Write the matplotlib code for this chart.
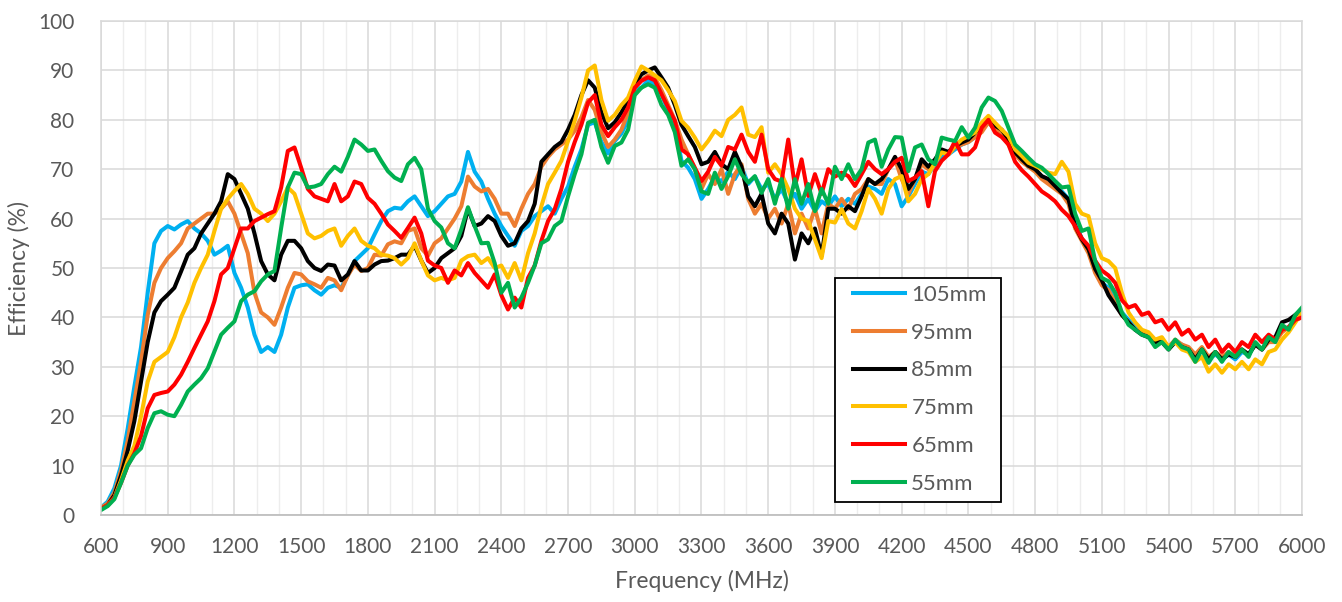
import numpy as np
import matplotlib
matplotlib.use('Agg')
import matplotlib.pyplot as plt
from matplotlib.ticker import MultipleLocator
from matplotlib.patches import Rectangle

plt.rcParams['font.family'] = ['Lato', 'DejaVu Sans']

# Frequency samples (MHz), 30 MHz apart
freq = list(range(600, 6001, 30))

labels = ['105mm', '95mm', '85mm', '75mm', '65mm', '55mm']
colors = ['#00B0F0', '#ED7D31', '#000000', '#FFC000', '#FF0000', '#00B050']

s105 = [
    1.5, 2.7, 5.4, 10, 17.5, 26, 34, 45, 55, 57.5,
    58.5, 57.8, 58.8, 59.5, 58, 57, 55.5, 52.7, 53.5, 54.5,
    49, 46, 42, 36.5, 33, 34, 33, 36.5, 42, 46,
    46.5, 46.7, 45.5, 44.6, 46, 46.5, 46, 48.5, 51.4, 52.7,
    54, 56.8, 59.5, 61.5, 62.2, 62, 63.5, 64.5, 62.5, 60.5,
    61.5, 63, 64.5, 65, 67.5, 73.5, 69.5, 67.5, 64, 61,
    58.5, 56.5, 54.5, 57.5, 58.5, 60.5, 61.5, 62.5, 61, 64,
    66.5, 70.5, 74, 79, 79.5, 75.5, 73.2, 75.7, 77.2, 80,
    86, 86.5, 88, 87.2, 85.2, 81.8, 79, 71.7, 70.3, 68,
    64, 66, 68.5, 67.5, 69.5, 68, 70.5, 67, 68.5, 66,
    67, 64, 66, 63, 65, 62, 64, 61.5, 63.5, 62.5,
    64.5, 62.5, 64, 63, 65, 66.5, 66, 65, 68, 67,
    62.5, 64.5, 67, 69.5, 69, 71, 72.5, 73, 74, 75,
    75.5, 76.5, 78, 79.5, 78, 77.5, 75.5, 73.5, 72, 70.5,
    70, 68.5, 67.5, 66.5, 65.5, 64, 59, 56, 53.5, 49.5,
    47, 46, 43.5, 41, 39.5, 38, 37, 36, 35, 35.5,
    34, 35, 34.5, 33.5, 32, 33.5, 31.5, 32.5, 31.5, 32.5,
    31.5, 33, 32.5, 34.5, 33.5, 35.5, 35.5, 37.5, 38, 40,
    41.5]

s95 = [
    1.5, 2.3, 4.5, 9, 15, 23, 31, 40.5, 47, 50,
    52, 53.4, 55, 58, 59, 60, 61, 61, 62, 63.5,
    61, 57, 53, 45, 41, 40, 38.5, 42, 46, 49,
    48.7, 47.3, 46.7, 46, 48, 47.5, 45.5, 48.5, 50.7, 49.4,
    50, 52.7, 52.5, 54.8, 55.4, 55, 57.5, 58, 54, 52.5,
    55, 56, 58, 60, 62.5, 68.5, 66.5, 65.5, 66, 64,
    61, 61, 58.5, 62, 65, 67, 70.5, 72.5, 74, 75,
    76, 77.8, 80.5, 84, 82, 77.5, 74.5, 76, 78, 81.5,
    86.5, 88, 89, 88.5, 86, 83, 80, 76, 73, 70,
    66, 69, 67, 70, 65, 69, 71, 64, 61, 63,
    60, 62, 59, 63, 57, 61, 58, 62, 57, 63,
    62, 64, 62, 65, 66, 68, 67, 67, 70, 72,
    68, 65, 68, 71, 70, 71.5, 73.5, 73, 74.5, 75,
    75.5, 76.5, 77.5, 79.5, 78, 77.5, 75, 73, 71.5, 70.5,
    69.5, 68, 67, 66, 65, 63, 58, 55.5, 53, 49,
    46.5, 45.5, 43, 40.5, 39, 37.5, 37, 36, 35, 35.5,
    34, 35.5, 34.5, 34, 32.5, 34, 32, 33, 32, 33,
    32, 33.5, 32.5, 34.5, 33.5, 35, 35, 37, 38, 39.5,
    40]

s85 = [
    1.2, 2, 4, 8, 13, 19, 27, 35, 41, 43.3,
    44.6, 46, 49.3, 52.7, 54, 57, 59, 61, 63.5, 69,
    68, 65, 62, 57, 51.4, 48.7, 47.5, 52.7, 55.5, 55.5,
    54, 51.4, 50, 49.4, 50.7, 50.5, 47.5, 48.7, 51.4, 49.5,
    49.5, 50.7, 51.4, 51.5, 52, 52.7, 52.7, 54.5, 51.5, 49,
    50, 52, 53, 54, 56.5, 62, 58.5, 59, 60.5, 59.5,
    56.5, 54.5, 55, 58, 59.5, 63, 71.5, 73, 74.5, 75.5,
    78, 81, 85, 88, 86.5, 81.5, 78.3, 79.5, 81.5, 84,
    87.2, 89.2, 90, 90.6, 88.6, 86.5, 83, 79, 76.7, 74.5,
    71, 71.5, 73.5, 71, 70, 73.5, 70.5, 64.5, 62.5, 65,
    59, 57, 61, 59, 51.7, 57, 55, 58, 52.5, 62,
    62, 61, 62.5, 61.5, 64.5, 68, 67, 68, 70, 72.5,
    70, 66, 68, 72, 70.5, 72, 74, 73.5, 74.7, 75.4,
    76, 77.4, 78.8, 80, 78.8, 78, 76, 73.4, 72, 70.7,
    70, 68.6, 68, 66.6, 65.2, 63.9, 58.5, 55.8, 53.8, 49.8,
    47.5, 44.5, 42.5, 40.5, 39, 37.5, 36.5, 36, 35, 35,
    33.5, 35, 34, 33.5, 31.5, 33.5, 31.5, 33, 31.5, 32.5,
    32, 33.5, 32.5, 34.5, 33.5, 35.5, 36, 39, 39.5, 40.5,
    41.5]

s75 = [
    1.2, 2, 3.5, 7, 11, 14, 20, 27, 31, 32,
    33, 36, 40, 43, 47, 50, 52.7, 57.5, 62, 64,
    65.6, 67, 65, 62, 61, 59.5, 61, 63.5, 66.3, 65,
    61, 57, 56, 56.5, 57.5, 58, 54.5, 56.5, 58, 55.5,
    54.5, 54, 52.7, 52.5, 52, 50.7, 52, 55, 51.5, 48.5,
    47.5, 48, 47.5, 48, 51.5, 52.4, 52.7, 51, 52, 50,
    50.5, 48, 51, 47.5, 53, 57, 62.5, 67, 69.3, 71.7,
    75.7, 79.8, 84.5, 90, 91, 84, 79.8, 81, 83, 84.5,
    87.9, 90.8, 90, 89, 88, 86, 83.8, 79.8, 78.4, 76.4,
    74, 75.7, 77.8, 76.7, 80, 81, 82.5, 77, 76.5, 78.5,
    69.3, 71, 69, 66, 62, 60, 59.5, 55.8, 52, 59.5,
    59.2, 61.9, 59, 58, 61.5, 66, 64, 61, 66, 68,
    68.6, 63.5, 65, 68, 69, 71.3, 73.4, 73, 74.7, 76,
    76.7, 77.4, 79.4, 80.8, 79.4, 78, 76.7, 74, 72.7, 71.3,
    70.7, 70, 69.3, 69, 71.5, 69.5, 63, 61, 60.5, 55,
    52, 51.4, 50, 45, 41, 39, 37.5, 37, 35.5, 36,
    34, 35, 33.5, 33, 31, 32, 29, 30.5, 28.8, 30.5,
    29.5, 31, 29.5, 31.5, 30.5, 33, 33.5, 35.5, 37, 39,
    41]

s65 = [
    1.2, 2, 3.5, 6.5, 10, 12.5, 16, 21.6, 24.3, 24.7,
    25, 26.4, 28.4, 31, 33.8, 36.5, 39.2, 43.3, 48.7, 50,
    54, 58, 58, 59.5, 60.2, 60.9, 61.5, 66.3, 73.7, 74.4,
    70.3, 66, 64.5, 64, 63.5, 67, 63.5, 64.5, 67.5, 67,
    64.2, 63, 61, 58.8, 57.5, 56.1, 58.1, 60.2, 57, 51.5,
    50.5, 50, 47, 49.5, 48.5, 51, 49, 47.5, 46, 48.7,
    44.5, 41.6, 44, 42, 48, 50.5, 55.5, 59.5, 61.9, 66,
    71.5, 75.5, 79, 83.5, 85, 79, 76.7, 78.5, 80, 82.5,
    86.5, 87.9, 88.6, 88, 85.2, 82.5, 79.8, 74, 73, 70.3,
    67.6, 69.5, 72.5, 70.7, 74.5, 74, 77, 73.5, 71.5, 77,
    70, 68, 67.5, 76, 66.5, 72, 64.6, 69, 65, 70,
    68.5, 69.3, 68.6, 66.6, 69, 71.5, 70, 69, 70, 71.5,
    72.3, 67.6, 68.3, 69.6, 62.5, 69.6, 71.7, 73, 75.7, 73,
    73, 74.4, 78.4, 80, 77.4, 76.5, 75, 71.5, 69.8, 68.5,
    67, 65.5, 64.6, 63.5, 61.8, 60.5, 58.5, 56, 54.5, 51.5,
    49.5, 48.5, 47, 43.5, 42, 42.5, 40.5, 41, 39, 39.5,
    37.5, 39, 36.5, 37.5, 35.5, 36.5, 34, 35.5, 33, 34.5,
    33, 35, 34, 36.5, 35, 36.5, 35.5, 37.5, 38, 39.5,
    40]

s55 = [
    1, 1.8, 3.2, 6.5, 10, 12.2, 13.5, 17.6, 20.6, 21,
    20.3, 20, 22.3, 25, 26.4, 27.7, 29.7, 33.1, 36.5, 37.9,
    39.2, 43.3, 44.6, 45.3, 47.3, 48.7, 49.4, 58.1, 66.3, 69.3,
    69, 66.3, 66.5, 67, 69, 70.5, 69.5, 72.5, 76, 75,
    73.7, 74, 71.7, 69.6, 68.3, 67.6, 71, 72.3, 70, 62,
    59.5, 58.2, 55, 54, 57.8, 62.3, 58.5, 55, 55.1, 51,
    45, 47, 42, 44, 47, 50.5, 55, 55.8, 58.5, 59.5,
    64.5, 69, 73, 79.4, 80, 74.5, 71.3, 74.7, 75.4, 78,
    85, 86.5, 87.2, 86.5, 83, 81, 77.5, 70.7, 72, 70,
    65.5, 65, 69.3, 66, 68.6, 72, 69, 67.3, 68.6, 65.2,
    68, 63, 68, 62, 68, 63, 67, 61.5, 66, 63,
    70.5, 68, 71, 68, 70, 75.4, 76, 70.5, 74, 76.5,
    76.4, 69.6, 74.4, 75, 72, 71, 76.4, 76, 75.7, 78.5,
    76.4, 78.4, 82.5, 84.5, 83.8, 81.8, 78.4, 75, 73.7, 72.3,
    71, 70.3, 69, 67.6, 66.3, 66.5, 61, 57.5, 58, 51.4,
    48, 47.3, 45, 41, 38.5, 37.5, 36.5, 36, 34, 35,
    33.5, 35.5, 34, 33.5, 31, 33.5, 30.8, 33, 31, 33,
    32, 33.5, 32, 35, 33.5, 36, 35, 38.5, 37.5, 40.5,
    42]

series = [s105, s95, s85, s75, s65, s55]

fig = plt.figure(figsize=(13.42, 6.02), dpi=100)
ax = fig.add_axes([101 / 1342, 87 / 602, 1201 / 1342, 494 / 602])

for vals, lab, col in zip(series, labels, colors):
    ax.plot(freq, vals, color=col, lw=2.9, label=lab, solid_joinstyle='round')

ax.set_xlim(600, 6000)
ax.set_ylim(0, 100)
ax.xaxis.set_major_locator(MultipleLocator(300))
ax.xaxis.set_minor_locator(MultipleLocator(100))
ax.yaxis.set_major_locator(MultipleLocator(10))

ax.grid(which='major', axis='both', color='#D9D9D9', lw=1.1)
ax.grid(which='minor', axis='x', color='#EDEDED', lw=1.0)
ax.set_axisbelow(True)

for side in ['top', 'right', 'left']:
    ax.spines[side].set_color('#D9D9D9')
    ax.spines[side].set_linewidth(1.1)
ax.spines['bottom'].set_color('#BFBFBF')
ax.spines['bottom'].set_linewidth(1.3)

txt = '#595959'
ax.tick_params(axis='both', which='both', length=0, labelcolor=txt, labelsize=15)
ax.tick_params(axis='x', pad=16)
ax.tick_params(axis='y', pad=19)

ax.set_xlabel('Frequency (MHz)', color=txt, fontsize=16.5, labelpad=9)
ax.set_ylabel('Efficiency (%)', color=txt, fontsize=16.5, labelpad=6)

# legend frame drawn separately, content placed inside it
frame = Rectangle((0.611, 0.026), 0.138, 0.454, transform=ax.transAxes,
                  facecolor='white', edgecolor='black', lw=1.3, zorder=5)
ax.add_patch(frame)
leg = ax.legend(loc='upper left', bbox_to_anchor=(0.626, 0.466), fontsize=16,
                frameon=False, handlelength=2.35, handletextpad=0.28,
                labelspacing=0.80, borderpad=0, borderaxespad=0)
leg.set_zorder(6)
for t in leg.get_texts():
    t.set_color(txt)

fig.savefig('out.png', dpi=100)
